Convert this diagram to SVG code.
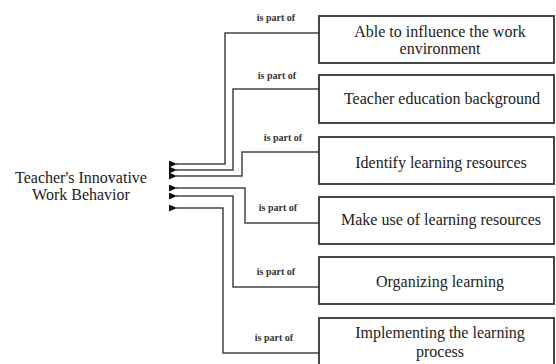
<svg xmlns="http://www.w3.org/2000/svg" width="556" height="364" viewBox="0 0 556 364">
<style>
.box{fill:#fff;stroke:#333;stroke-width:1.8}
.bt{font-family:"Liberation Serif","Times New Roman",serif;font-size:16px;fill:#222;text-anchor:middle}
.lbl{font-family:"Liberation Serif","Times New Roman",serif;font-size:10px;font-weight:bold;fill:#333;text-anchor:middle}
.c{fill:none;stroke:#444;stroke-width:1.5}
</style>
<defs>
<marker id="ah" viewBox="0 0 8 7" refX="1" refY="3.5" markerWidth="8" markerHeight="7" orient="auto-start-reverse" markerUnits="userSpaceOnUse">
<path d="M0,3.5 L8,0 L8,7 Z" fill="#111"/>
</marker>
</defs>
<rect width="556" height="364" fill="#fff"/>
<g id="main">
<text class="bt" x="81" y="183">Teacher's Innovative</text>
<text class="bt" x="81" y="200">Work Behavior</text>
</g>
<g id="connectors">
<polyline class="c" marker-end="url(#ah)" points="319,33 225,33 225,164 176,164"/>
<polyline class="c" marker-end="url(#ah)" points="319,89 233,89 233,170 176,170"/>
<polyline class="c" marker-end="url(#ah)" points="319,152 242,152 242,176 176,176"/>
<polyline class="c" marker-end="url(#ah)" points="319,223 245,223 245,188 176,188"/>
<polyline class="c" marker-end="url(#ah)" points="319,287 233,287 233,196 176,196"/>
<polyline class="c" marker-end="url(#ah)" points="319,353 223,353 223,208 176,208"/>
<text class="lbl" x="276" y="21">is part of</text>
<text class="lbl" x="277" y="79">is part of</text>
<text class="lbl" x="283" y="141">is part of</text>
<text class="lbl" x="278" y="211">is part of</text>
<text class="lbl" x="276" y="275">is part of</text>
<text class="lbl" x="274" y="341">is part of</text>
</g>
<g id="n1">
<rect class="box" x="319" y="16" width="235" height="47"/>
<text class="bt" x="440" y="37">Able to influence the work</text>
<text class="bt" x="440" y="54">environment</text>
</g>
<g id="n2">
<rect class="box" x="319" y="75" width="235" height="48"/>
<text class="bt" x="442" y="104">Teacher education background</text>
</g>
<g id="n3">
<rect class="box" x="319" y="137" width="235" height="47"/>
<text class="bt" x="441" y="168">Identify learning resources</text>
</g>
<g id="n4">
<rect class="box" x="319" y="197" width="235" height="47"/>
<text class="bt" x="441" y="225">Make use of learning resources</text>
</g>
<g id="n5">
<rect class="box" x="319" y="257" width="235" height="47"/>
<text class="bt" x="440" y="287">Organizing learning</text>
</g>
<g id="n6">
<rect class="box" x="319" y="318" width="235" height="52"/>
<text class="bt" x="440" y="338">Implementing the learning</text>
<text class="bt" x="440" y="357">process</text>
</g>
</svg>
